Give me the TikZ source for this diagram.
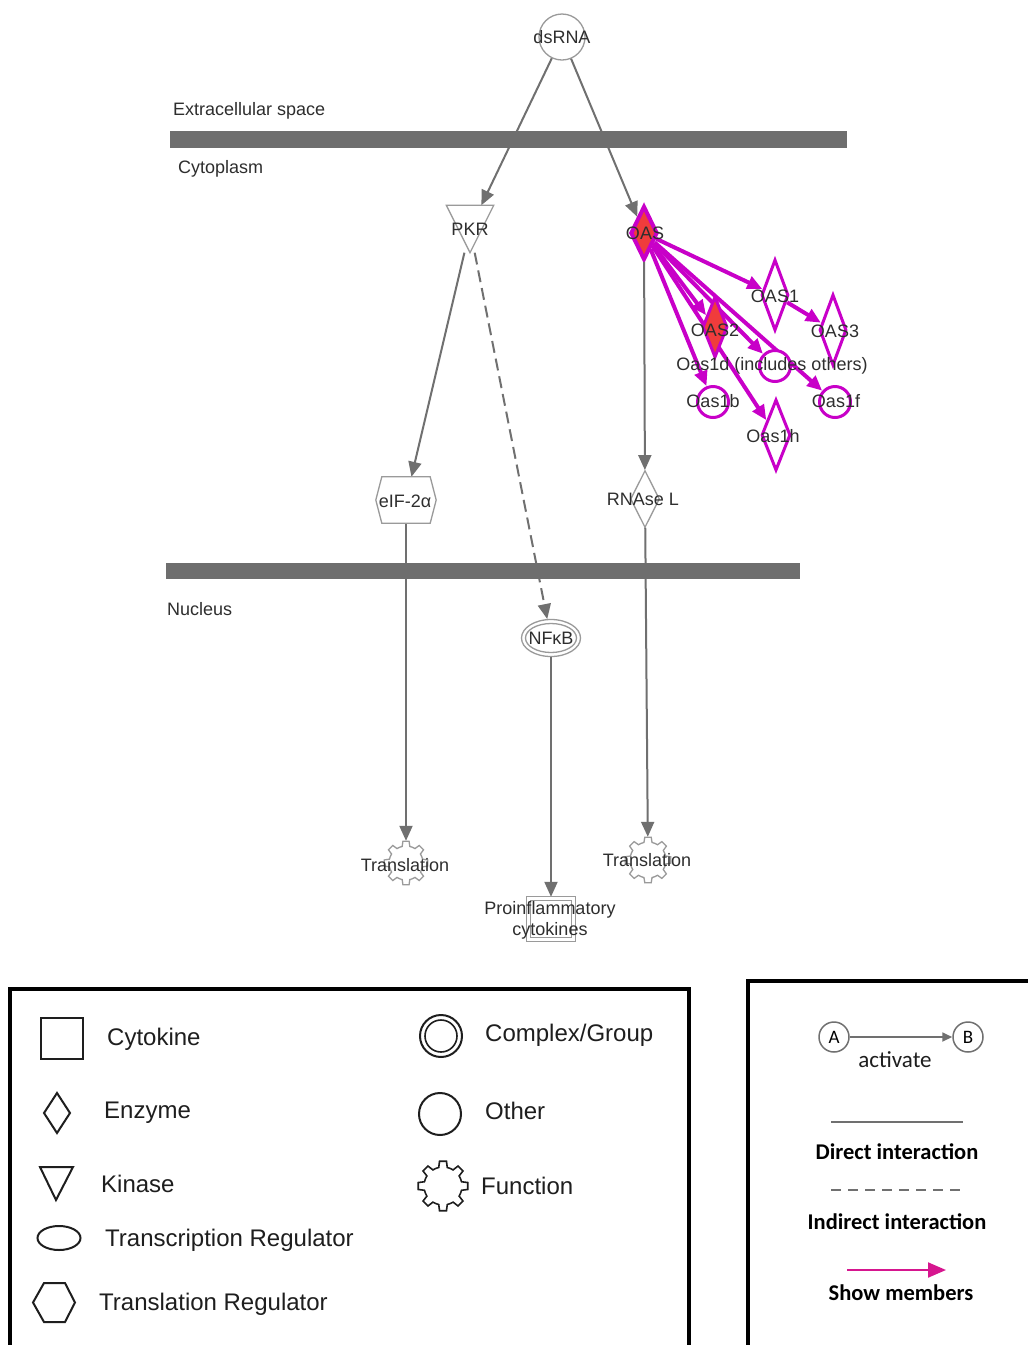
\documentclass[tikz,border=0pt]{standalone}
\usepackage{fontspec}
\setmainfont{Liberation Sans}
\newfontfamily\calfont{Carlito}
\usetikzlibrary{shapes.geometric,arrows.meta,calc}

\definecolor{barc}{HTML}{6E6E6E}
\definecolor{edgec}{HTML}{707070}
\definecolor{shapec}{HTML}{9A9A9A}
\definecolor{txt}{HTML}{2E2E2E}
\definecolor{mag}{HTML}{C800C8}
\definecolor{oasred}{HTML}{F03C3C}
\definecolor{legmag}{HTML}{D6168F}
\definecolor{legink}{HTML}{1E1E1E}

\tikzset{
  lbl/.style={font=\fontsize{18}{20}\selectfont, text=txt, inner sep=0},
  gene/.style={draw=shapec, line width=1.3pt, fill=white, inner sep=0},
  mdia/.style={draw=mag, line width=3pt, fill=white, inner sep=0},
  edge/.style={draw=edgec, line width=2pt, -{Triangle[length=15pt,width=13pt]}},
  medge/.style={draw=mag, line width=4pt, -{Triangle[length=15pt,width=13pt]}},
  legshape/.style={draw=legink, line width=2pt},
  legtxt/.style={font=\fontsize{24}{26}\selectfont, text=legink, inner sep=0, anchor=west},
  keytxt/.style={font=\calfont\bfseries\fontsize{22.5}{24}\selectfont, text=black, inner sep=0},
  pics/gear/.style 2 args={code={
    \path[pic actions] (-22.5:#2)
      \foreach \a in {0,45,...,315}{
        -- ({\a-13}:#2) -- ({\a-8}:#1) -- ({\a+8}:#1) -- ({\a+13}:#2) -- ({\a+22.5}:#2)
      } -- cycle;
  }}
}

\begin{document}
\begin{tikzpicture}[x=1pt,y=-1pt]
\useasboundingbox (0,0) rectangle (1028,1345);
\clip (0,0) rectangle (1028,1345);
\fill[white] (0,0) rectangle (1028,1345);

% ---------- compartment labels ----------
\node[lbl, anchor=west] (extra) at (173,111) {Extracellular space};
\node[lbl, anchor=west] (cyto) at (178,169) {Cytoplasm};
\node[lbl, anchor=west] (nucl) at (167,609) {Nucleus};

% ---------- molecules ----------
\node[circle, gene, minimum size=46] (dsrna) at (562,37) {};
\node[rectangle, inner sep=0, minimum width=47, minimum height=47] (pkr) at (470,229) {};
\node[diamond, draw=mag, line width=4pt, fill=oasred, inner sep=0,
      minimum width=27, minimum height=54] (oas) at (644,233) {};
\node[rectangle, inner sep=0, minimum width=60, minimum height=46] (eif) at (406,500) {};
\node[diamond, gene, minimum width=29, minimum height=57] (rnase) at (645,499) {};
\node[ellipse, gene, minimum width=59, minimum height=37] (nfkb) at (551,638) {};
\node[circle, inner sep=0, minimum size=44] (tr1) at (406,863) {};
\node[circle, inner sep=0, minimum size=46] (tr2) at (648,860) {};
\node[rectangle, inner sep=0, minimum width=49, minimum height=44] (cytok) at (551,919) {};

% ---------- gray interactions ----------
\draw[edge] (dsrna) -- (pkr);
\draw[edge] (dsrna) -- (oas);
\draw[edge] (pkr) -- (eif);
\draw[edge, dash pattern=on 12pt off 6pt] (pkr) -- (nfkb);
\draw[edge] (oas) -- (rnase);
\draw[edge] (eif) -- (tr1);
\draw[edge] (nfkb) -- (cytok);
\draw[edge] (rnase) -- (tr2);

% ---------- membranes ----------
\fill[barc] (170,130.5) rectangle (847,147.5);
\fill[barc] (166,563) rectangle (800,579);

% ---------- shape outlines ----------
\draw[gene] (pkr.north west) -- (pkr.north east) -- (pkr.south) -- cycle;
\draw[gene] ([xshift=6pt]eif.north west) -- ([xshift=-6pt]eif.north east) -- (eif.east)
  -- ([xshift=-6pt]eif.south east) -- ([xshift=6pt]eif.south west) -- (eif.west) -- cycle;
\draw[shapec, line width=1.3pt] (nfkb.center) ellipse [x radius=25.5, y radius=14.5];
\pic[draw=shapec, fill=white, line width=1.3pt] at (tr1) {gear={22}{17}};
\pic[draw=shapec, fill=white, line width=1.3pt] at (tr2) {gear={23}{18}};
\draw[gene] (cytok.north west) rectangle (cytok.south east);
\draw[gene] ([shift={(4,4)}]cytok.north west) rectangle ([shift={(-4,-4)}]cytok.south east);

% ---------- OAS members ----------
\node[diamond, inner sep=0, minimum width=28, minimum height=64] (oas2) at (715,327) {};
\node[diamond, inner sep=0, minimum width=30, minimum height=74] (oas1) at (775,295) {};
\node[diamond, inner sep=0, minimum width=30, minimum height=74] (oas3) at (833,330) {};
\node[circle, inner sep=0, minimum size=34] (oas1d) at (775,366) {};
\node[circle, inner sep=0, minimum size=34] (oas1b) at (713,402) {};
\node[circle, inner sep=0, minimum size=34] (oas1f) at (835,402) {};
\node[diamond, inner sep=0, minimum width=32, minimum height=74] (oas1h) at (776,435) {};

\draw[medge] (oas) -- (oas1);
\draw[medge] (oas) -- (oas2);
\draw[medge] (oas) -- (oas1d);
\draw[medge] (oas) -- (oas1b);
\draw[medge] (oas) -- (oas1h);
\draw[medge] (oas) -- (oas1f);
\draw[medge] (oas1) -- (oas3);

\node[diamond, mdia, fill=oasred, minimum width=25, minimum height=61] at (oas2) {};
\node[diamond, mdia, minimum width=27, minimum height=71] at (oas1) {};
\node[diamond, mdia, minimum width=27, minimum height=71] at (oas3) {};
\node[circle, mdia, minimum size=31] at (oas1d) {};
\node[circle, mdia, minimum size=31] at (oas1b) {};
\node[circle, mdia, minimum size=31] at (oas1f) {};
\node[diamond, mdia, minimum width=29, minimum height=71] at (oas1h) {};

% ---------- labels ----------
\node[lbl] (tdsrna) at (562,37) {dsRNA};
\node[lbl] (tpkr) at (470,229) {PKR};
\node[lbl] (toas) at (645,233) {OAS};
\node[lbl] (teif) at (405,501) {eIF-2α};
\node[lbl] (trnase) at (643,499) {RNAse L};
\node[lbl] (tnfkb) at (551,638) {NFκB};
\node[lbl] (ttr1) at (405,865) {Translation};
\node[lbl] (ttr2) at (647,860) {Translation};
\node[lbl, align=center, font=\fontsize{18}{21}\selectfont] (tcytok) at (550,920) {Proinflammatory\\cytokines};
\node[lbl] (toas1) at (775,296) {OAS1};
\node[lbl] (toas2) at (715,330) {OAS2};
\node[lbl] (toas3) at (835,331) {OAS3};
\node[lbl] (toas1d) at (772,366) {Oas1d (includes others)};
\node[lbl] (toas1b) at (713,401) {Oas1b};
\node[lbl] (toas1f) at (836,401) {Oas1f};
\node[lbl] (toas1h) at (773,436) {Oas1h};

% ---------- legend: shapes ----------
\draw[line width=4pt, black] (10,1400) -- (10,989) -- (689,989) -- (689,1400);
\draw[legshape] (41,1018) rectangle (83,1059);
\node[legtxt] (kcyt) at (107,1039) {Cytokine};
\draw[legshape] (57,1093) -- (70,1113) -- (57,1133) -- (44,1113) -- cycle;
\node[legtxt] (kenz) at (104,1113) {Enzyme};
\draw[legshape] (40,1167) -- (73,1167) -- (56,1200) -- cycle;
\node[legtxt] (kkin) at (101,1184) {Kinase};
\draw[legshape] (59,1238) ellipse [x radius=21.5, y radius=12];
\node[legtxt] (ktr) at (105,1240) {Transcription Regulator};
\draw[legshape] (44,1283) -- (65,1283) -- (75,1302.5) -- (65,1322) -- (44,1322) -- (33,1302.5) -- cycle;
\node[legtxt] (ktl) at (99,1304) {Translation Regulator};
\draw[legshape] (441,1036) circle [radius=21];
\draw[legshape, line width=1.6pt] (441,1036) circle [radius=16];
\node[legtxt] (kcx) at (485,1035) {Complex/Group};
\draw[legshape] (440,1114) circle [radius=21];
\node[legtxt] (koth) at (485,1111) {Other};
\pic[legshape, line width=1.6pt] at (443,1186) {gear={25}{19}};
\node[legtxt] (kfun) at (481,1186) {Function};

% ---------- legend: relationships ----------
\draw[line width=4pt, black] (748,1400) -- (748,981) -- (1100,981);
\node[circle, draw=edgec, line width=1.5pt, minimum size=30, inner sep=0,
      font=\calfont\fontsize{19}{20}\selectfont] (ka) at (834,1037) {A};
\node[circle, draw=edgec, line width=1.5pt, minimum size=30, inner sep=0,
      font=\calfont\fontsize{19}{20}\selectfont] (kb) at (968,1037) {B};
\draw[draw=edgec, line width=1.8pt, -{Triangle[length=10pt,width=9pt]}] (ka) -- (kb);
\node[font=\calfont\fontsize{23}{24}\selectfont, text=legink, inner sep=0] (kact) at (895,1060) {activate};
\coordinate (d1) at (831,1122);
\coordinate (d2) at (963,1122);
\draw[draw=edgec, line width=2pt] (d1) -- (d2);
\node[keytxt] (kdir) at (897,1152) {Direct interaction};
\coordinate (i1) at (831,1190);
\coordinate (i2) at (965,1190);
\draw[draw=edgec, line width=2pt, dash pattern=on 10pt off 7pt] (i1) -- (i2);
\node[keytxt] (kind) at (897,1222) {Indirect interaction};
\coordinate (m1) at (847,1270);
\coordinate (m2) at (946,1270);
\draw[draw=legmag, line width=2pt, -{Triangle[length=18pt,width=15pt]}] (m1) -- (m2);
\node[keytxt] (kmem) at (901,1293) {Show members};
\end{tikzpicture}
\end{document}
